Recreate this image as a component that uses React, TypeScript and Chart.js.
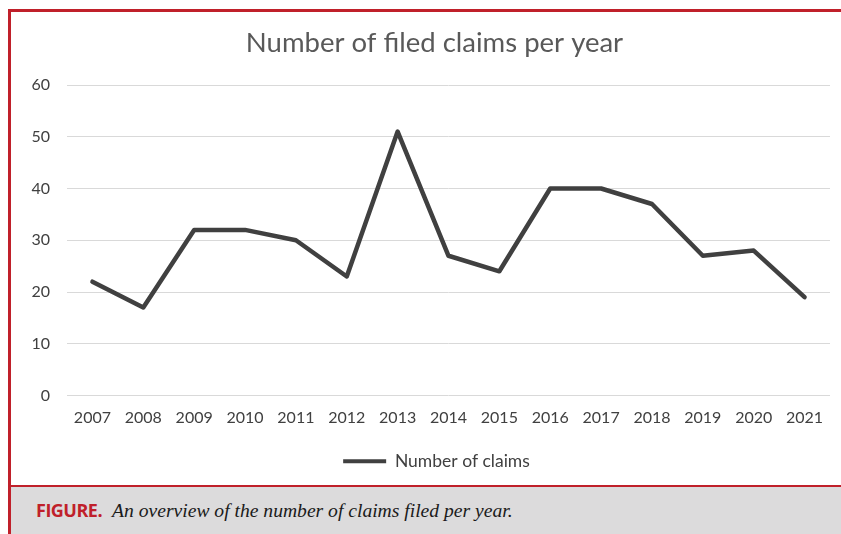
import React, { useEffect, useRef } from "react";
import { Chart, registerables } from "chart.js";

Chart.register(...registerables);

const years = ["2007", "2008", "2009", "2010", "2011", "2012", "2013", "2014", "2015", "2016", "2017", "2018", "2019", "2020", "2021"];
const claims = [22, 17, 32, 32, 30, 23, 51, 27, 24, 40, 40, 37, 27, 28, 19];
const chartTitle = "Number of filed claims per year";
const seriesLabel = "Number of claims";
const yMin = 0;
const yMax = 60;
const yStep = 10;

const RED = "#c0202a";
const LINE = "#404040";
const TEXT = "#404040";

const shiftBlocks = {
  id: "shiftBlocks",
  afterLayout(chart: any) {
    if (chart.titleBlock) chart.titleBlock.left += 28;
    if (chart.legend) chart.legend.left += 32;
  },
};

export default function App() {
  const canvasRef = useRef<HTMLCanvasElement | null>(null);

  useEffect(() => {
    if (!canvasRef.current) return;
    const chart = new Chart(canvasRef.current, {
      type: "line",
      data: {
        labels: years,
        datasets: [
          {
            label: seriesLabel,
            data: claims,
            borderColor: LINE,
            backgroundColor: LINE,
            borderWidth: 4.5,
            pointRadius: 0,
            tension: 0,
            borderJoinStyle: "round",
            borderCapStyle: "round",
          },
        ],
      },
      plugins: [shiftBlocks],
      options: {
        animation: false,
        responsive: false,
        maintainAspectRatio: false,
        layout: { padding: { left: 0, right: 11, top: 0, bottom: 5 } },
        plugins: {
          title: {
            display: true,
            text: chartTitle,
            color: "#595959",
            font: { family: "Lato", size: 27.5, weight: "normal" },
            padding: { top: 15, bottom: 25 },
          },
          legend: {
            position: "bottom",
            labels: {
              color: TEXT,
              font: { family: "Lato", size: 17.5 },
              boxWidth: 43,
              boxHeight: 4,
              padding: 10,
              generateLabels: (c: any) => {
                const items = Chart.defaults.plugins.legend.labels.generateLabels(c);
                return items.map((it: any) => ({ ...it, lineWidth: 0, fillStyle: LINE, strokeStyle: LINE }));
              },
            },
          },
          tooltip: { enabled: false },
        },
        scales: {
          x: {
            offset: true,
            grid: { display: false, drawTicks: false },
            border: { display: false },
            ticks: {
              color: TEXT,
              font: { family: "Lato", size: 16 },
              padding: 13,
              maxRotation: 0,
              autoSkip: false,
            },
            afterFit: (s: any) => {
              s.height = 47;
            },
          },
          y: {
            min: yMin,
            max: yMax,
            grid: { color: "#d9d9d9", lineWidth: 1, drawTicks: false },
            border: { display: false },
            ticks: {
              stepSize: yStep,
              color: TEXT,
              font: { family: "Lato", size: 16 },
              padding: 17,
            },
            afterFit: (s: any) => {
              s.width = 56;
            },
          },
        },
      },
    });
    return () => chart.destroy();
  }, []);

  return (
    <div style={{ position: "absolute", left: 0, top: 0, width: 841, height: 534, background: "#fff", overflow: "hidden" }}>
      <div
        style={{
          position: "absolute",
          left: 8,
          top: 9,
          width: 833,
          height: 525,
          borderTop: `3px solid ${RED}`,
          borderLeft: `3px solid ${RED}`,
          boxSizing: "border-box",
        }}
      >
        <canvas ref={canvasRef} width={830} height={473} style={{ display: "block", width: 830, height: 473 }} />
        <div
          style={{
            position: "absolute",
            left: 0,
            top: 473,
            width: 830,
            height: 49,
            borderTop: `2px solid ${RED}`,
            background: "#dcdbdc",
            boxSizing: "border-box",
            paddingLeft: 25,
            paddingTop: 11,
            whiteSpace: "nowrap",
          }}
        >
          <span style={{ fontFamily: "'Open Sans', 'Liberation Sans', sans-serif", fontWeight: 700, fontSize: 18, color: RED, letterSpacing: -0.5 }}>
            FIGURE.
          </span>
          <span style={{ fontFamily: "'Liberation Serif', serif", fontStyle: "italic", fontSize: 19.6, color: "#1a1a1a", marginLeft: 10 }}>
            An overview of the number of claims filed per year.
          </span>
        </div>
      </div>
    </div>
  );
}
